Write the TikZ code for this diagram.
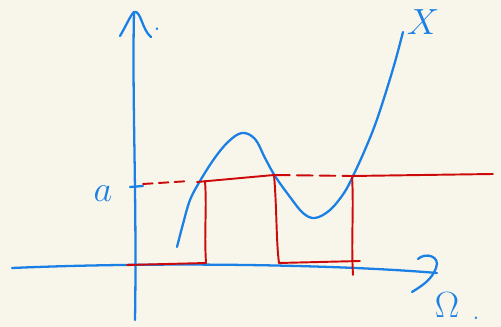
\documentclass[tikz,border=0pt]{standalone}
\usepackage{tikz}
\usetikzlibrary{calc}
\definecolor{penblue}{HTML}{1A80E6}
\definecolor{penred}{HTML}{CC0A0A}
\definecolor{paper}{HTML}{F8F6EA}

\begin{document}
\begin{tikzpicture}[x=0.02cm, y=-0.02cm,
  bluepen/.style={draw=penblue, line width=1.3pt, line cap=round, line join=round},
  redpen/.style={draw=penred, line width=1.1pt, line cap=round, line join=round},
  reddash/.style={redpen, dash pattern=on 5.5pt off 3.5pt},
  lbl/.style={text=penblue, inner sep=0pt}]
  \fill[paper] (0,0) rectangle (501,327);
  \useasboundingbox (0,0) rectangle (501,327);

  % axes
  \draw[bluepen] (135,320) .. controls (137,200) and (132,100) .. (134,12);
  \draw[bluepen] (120,36) .. controls (126,26) and (130,16) .. (134,12)
    .. controls (141,10) and (142,30) .. (151,37);
  \node[lbl, font=\Large] (dotR) at (157,29) {.};
  \draw[bluepen] (12,268) .. controls (150,262) and (330,264) .. (437,273);
  \draw[bluepen] (418,259) .. controls (425,252) and (441,256) .. (436,268)
    .. controls (432,280) and (420,287) .. (412,292);
  \node[lbl, font=\huge] (omega) at (447,305) {$\Omega$};
  \node[lbl, font=\Large] (dotO) at (476,318) {.};

  % level a
  \draw[bluepen] (130,187) -- (143,186);
  \node[lbl, font=\huge] (lblA) at (103,194) {$a$};

  % X
  \draw[bluepen] plot[smooth, tension=0.6] coordinates {
    (177,247) (183,224) (190,200) (200,181) (214,159) (228,142) (242,133)
    (255,139) (265,158) (275,176) (290,197) (303,213) (315,218) (330,210)
    (344,193) (353,176) (364,152) (375,125) (385,95) (395,62) (403,32)};
  \node[lbl, font=\huge] (lblX) at (423,22) {$X$};

  % indicator of {X > a}
  \coordinate (b0) at (127,265);
  \coordinate (b1) at (206,263);
  \coordinate (t1) at (205,181);
  \coordinate (t2) at (274,175);
  \coordinate (b2) at (279,263);
  \coordinate (b3) at (360,261);
  \coordinate (t3) at (352,176);
  \draw[redpen] (b0) -- (b1);
  \draw[redpen] (b1) .. controls (204,230) and (207,210) .. (t1);
  \draw[redpen] (197,182) -- (t2);
  \draw[redpen] (t2) .. controls (277,210) and (276,240) .. (b2);
  \draw[redpen] (b2) -- (b3);
  \draw[redpen] (353,275) .. controls (351,240) and (354,210) .. (t3);
  \draw[redpen] (t3) -- (493,174);
  \draw[reddash] (143,184) -- (190,181);
  \draw[reddash, dash pattern=on 9pt off 4pt] (t2) -- (t3);
\end{tikzpicture}
\end{document}
